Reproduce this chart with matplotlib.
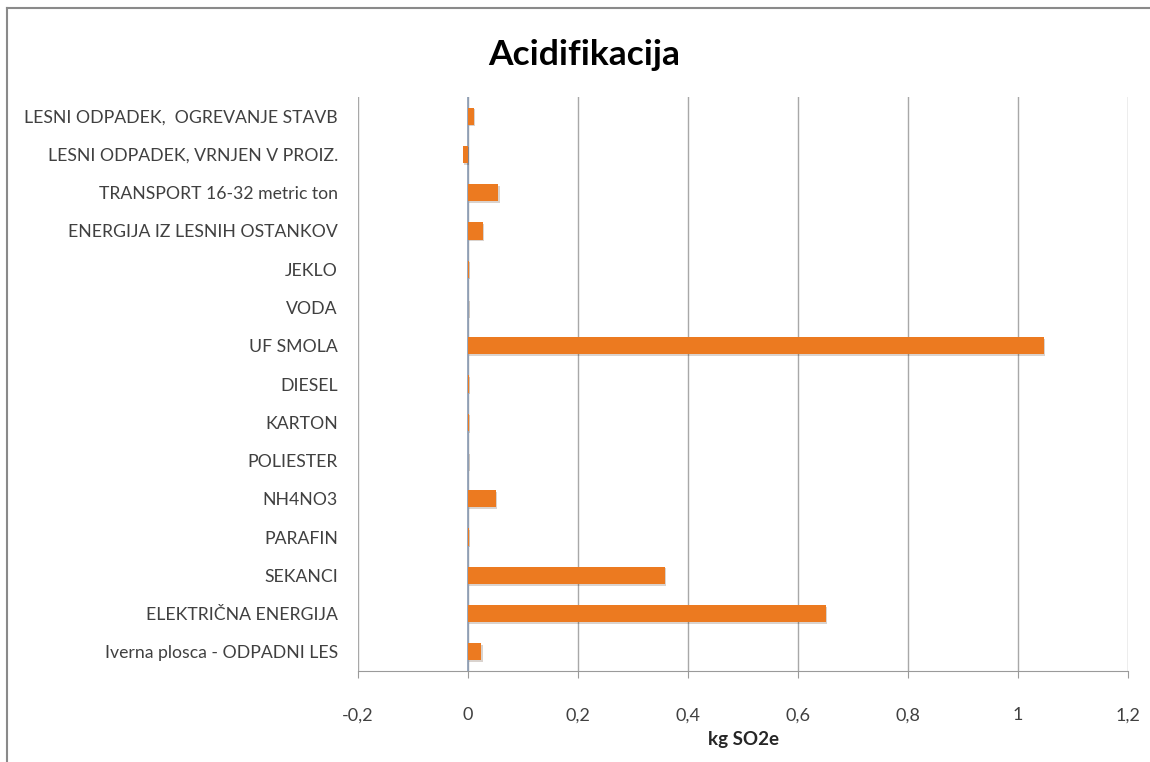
import matplotlib
matplotlib.use("Agg")
import matplotlib.pyplot as plt
import matplotlib.patheffects as pe
from matplotlib.lines import Line2D

# categories from bottom to top, as they appear on the y axis
categories = [
    "Iverna plosca - ODPADNI LES",
    "ELEKTRIČNA ENERGIJA",
    "SEKANCI",
    "PARAFIN",
    "NH4NO3",
    "POLIESTER",
    "KARTON",
    "DIESEL",
    "UF SMOLA",
    "VODA",
    "JEKLO",
    "ENERGIJA IZ LESNIH OSTANKOV",
    "TRANSPORT 16-32 metric ton",
    "LESNI ODPADEK, VRNJEN V PROIZ.",
    "LESNI ODPADEK,  OGREVANJE STAVB",
]
values = [0.024, 0.650, 0.358, 0.002, 0.051, 0.0005, 0.001, 0.001,
          1.047, 0.0005, 0.001, 0.027, 0.055, -0.009, 0.011]

xticks = [-0.2, 0, 0.2, 0.4, 0.6, 0.8, 1.0, 1.2]
xtick_labels = ["-0,2", "0", "0,2", "0,4", "0,6", "0,8", "1", "1,2"]

plt.rcParams["font.family"] = ["Lato", "DejaVu Sans"]

fig = plt.figure(figsize=(11.5, 7.62), dpi=100)
ax = fig.add_axes([0.3113, 0.1194, 0.6696, 0.7533])

ypos = range(len(categories))
ax.barh(ypos, values, height=0.45, color="#ec7a20",
        path_effects=[pe.SimplePatchShadow(offset=(1, -1.2), alpha=0.2),
                      pe.Normal()], zorder=3)

ax.set_xlim(-0.2, 1.2)
ax.set_ylim(-0.5, len(categories) - 0.5)
ax.set_xticks(xticks)
ax.set_xticklabels(xtick_labels, fontsize=13, color="#404040")
ax.set_yticks(list(ypos))
ax.set_yticklabels(categories, fontsize=12.7, color="#404040")

# vertical gridlines and the value axis through zero
for x in xticks:
    ax.axvline(x, color="#a8a8a8", lw=1, zorder=1)
ax.axvline(0, color="#8c9db5", lw=1.2, zorder=2)

for s in ["top", "right", "left"]:
    ax.spines[s].set_visible(False)
ax.spines["bottom"].set_color("#9a9a9a")
ax.tick_params(axis="x", length=5, color="#9a9a9a", pad=21)
ax.tick_params(axis="y", length=0, pad=14.5)

ax.set_xlabel("kg SO2e", fontsize=13.5, fontweight="bold", color="#262626",
              labelpad=6)
fig.text(0.508, 0.928, "Acidifikacija", ha="center", va="center",
         fontsize=25.5, fontweight="bold", color="#000000")

# chart frame
fig.add_artist(Line2D([0.006, 1.0], [0.989, 0.989], color="#8a8a8a", lw=1.5))
fig.add_artist(Line2D([0.006, 0.006], [0.0, 0.989], color="#8a8a8a", lw=1.5))

fig.savefig("out.png", dpi=100, facecolor="white")
